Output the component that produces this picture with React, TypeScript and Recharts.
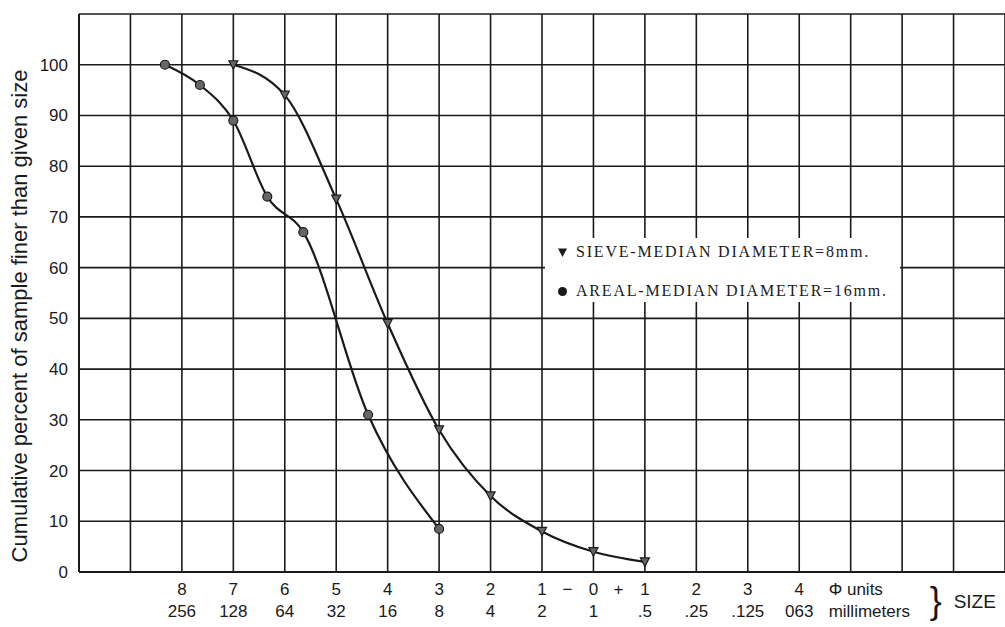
import { CartesianGrid, Legend, Line, LineChart, XAxis, YAxis } from 'recharts'

// phi size (negative = coarse side) vs cumulative percent finer
const sievePhi = [-7, -6, -5, -4, -3, -2, -1, 0, 1]
const sievePercent = [100, 94, 73.5, 49, 28, 15, 8, 4, 2]

const arealPhi = [-8.33, -7.65, -7, -6.34, -5.64, -4.38, -3]
const arealPercent = [100, 96, 89, 74, 67, 31, 8.5]

const phiTicks = [-10, -9, -8, -7, -6, -5, -4, -3, -2, -1, 0, 1, 2, 3, 4, 5, 6, 7, 8]
const phiLabels = ['', '', '8', '7', '6', '5', '4', '3', '2', '1', '0', '1', '2', '3', '4', '', '', '', '']
const mmLabels = ['', '', '256', '128', '64', '32', '16', '8', '4', '2', '1', '.5', '.25', '.125', '063', '', '', '', '']
const unitLabels = ['Φ units', 'millimeters']
const sizeLabel = 'SIZE'

const percentTicks = [0, 10, 20, 30, 40, 50, 60, 70, 80, 90, 100, 110]

const seriesNames = ['SIEVE-MEDIAN DIAMETER=8mm.', 'AREAL-MEDIAN DIAMETER=16mm.']
const yTitle = 'Cumulative percent of sample finer than given size'

const sieveData = sievePhi.map((phi, i) => ({ phi, pct: sievePercent[i] }))
const arealData = arealPhi.map((phi, i) => ({ phi, pct: arealPercent[i] }))

const ink = '#1a1a1a'
const sans = '"Liberation Sans", Arial, sans-serif'

function SizeTick(props: any) {
  const { x, y, payload } = props
  const v = payload.value
  const i = phiTicks.indexOf(v)
  const font = { fontFamily: sans, fontSize: 17, fill: ink }
  if (v === 5) {
    return (
      <g>
        <text x={x - 22} y={y + 23} textAnchor="start" {...font}>
          {unitLabels[0]}
        </text>
        <text x={x - 22} y={y + 45} textAnchor="start" {...font}>
          {unitLabels[1]}
        </text>
        <text x={x + 79} y={y + 41} textAnchor="start" fontFamily={sans} fontSize={36} fill={ink}>
          {'}'}
        </text>
        <text x={x + 103} y={y + 36} textAnchor="start" fontFamily={sans} fontSize={19} fill={ink}>
          {sizeLabel}
        </text>
      </g>
    )
  }
  if (i < 0 || !phiLabels[i]) return <g />
  return (
    <g>
      <text x={x} y={y + 23} textAnchor="middle" {...font}>
        {phiLabels[i]}
      </text>
      <text x={x} y={y + 45} textAnchor="middle" {...font}>
        {mmLabels[i]}
      </text>
      {v === 0 && (
        <>
          <text x={x - 26} y={y + 23} textAnchor="middle" {...font}>
            −
          </text>
          <text x={x + 25} y={y + 23} textAnchor="middle" {...font}>
            +
          </text>
        </>
      )}
    </g>
  )
}

function TriangleDot(props: any) {
  const { cx, cy } = props
  if (cx == null || cy == null) return <g />
  return (
    <path
      d={`M${cx - 4.5},${cy - 4} L${cx + 4.5},${cy - 4} L${cx},${cy + 4.5} Z`}
      fill="#666"
      stroke={ink}
      strokeWidth={1.2}
    />
  )
}

function CircleDot(props: any) {
  const { cx, cy } = props
  if (cx == null || cy == null) return <g />
  return <circle cx={cx} cy={cy} r={4.5} fill="#666" stroke={ink} strokeWidth={1.2} />
}

function LegendBox() {
  const row = {
    position: 'absolute' as const,
    left: 12,
    display: 'flex',
    alignItems: 'center',
    height: 16,
  }
  const label = {
    marginLeft: 8,
    fontFamily: '"Liberation Serif", "Times New Roman", serif',
    fontSize: 16,
    letterSpacing: 1.8,
    color: ink,
    whiteSpace: 'nowrap' as const,
  }
  return (
    <div style={{ position: 'relative', width: 355, height: 64, background: '#fff' }}>
      <div style={{ ...row, top: 6 }}>
        <svg width={11} height={11}>
          <path d="M1,1.5 L10,1.5 L5.5,10 Z" fill={ink} />
        </svg>
        <span style={label}>{seriesNames[0]}</span>
      </div>
      <div style={{ ...row, top: 45 }}>
        <svg width={11} height={11}>
          <circle cx={5.5} cy={5.5} r={4.5} fill={ink} />
        </svg>
        <span style={label}>{seriesNames[1]}</span>
      </div>
    </div>
  )
}

function App() {
  return (
    <div style={{ position: 'absolute', left: 0, top: 0, background: '#fff' }}>
      <LineChart width={1005} height={627} margin={{ top: 14, right: 0, bottom: 0, left: 0 }}>
        <CartesianGrid stroke={ink} strokeWidth={1.6} />
        <XAxis
          dataKey="phi"
          type="number"
          domain={[-10, 8]}
          ticks={phiTicks}
          interval={0}
          height={55}
          tickSize={0}
          tickMargin={0}
          tickLine={false}
          axisLine={{ stroke: ink, strokeWidth: 2 }}
          tick={<SizeTick />}
          allowDataOverflow
        />
        <YAxis
          type="number"
          domain={[0, 110]}
          ticks={percentTicks}
          interval={0}
          width={79}
          tickSize={0}
          tickMargin={11}
          tickLine={false}
          axisLine={{ stroke: ink, strokeWidth: 2 }}
          tick={{ fill: ink, fontSize: 17, fontFamily: sans }}
          tickFormatter={(v: number) => (v > 100 ? '' : String(v))}
          label={() => (
            <text
              x={19}
              y={316}
              transform="rotate(-90 19 316)"
              textAnchor="middle"
              dominantBaseline="central"
              fontFamily={sans}
              fontSize={22}
              fill={ink}
            >
              {yTitle}
            </text>
          )}
        />
        <Legend
          layout="vertical"
          align="center"
          verticalAlign="middle"
          content={<LegendBox />}
          wrapperStyle={{ left: 545, top: 238, width: 355, height: 64 }}
        />
        <Line
          data={arealData}
          dataKey="pct"
          name={seriesNames[1]}
          type="monotone"
          stroke={ink}
          strokeWidth={2.2}
          dot={<CircleDot />}
          activeDot={false}
          isAnimationActive={false}
        />
        <Line
          data={sieveData}
          dataKey="pct"
          name={seriesNames[0]}
          type="monotone"
          stroke={ink}
          strokeWidth={2.2}
          dot={<TriangleDot />}
          activeDot={false}
          isAnimationActive={false}
        />
      </LineChart>
    </div>
  )
}

export default App
